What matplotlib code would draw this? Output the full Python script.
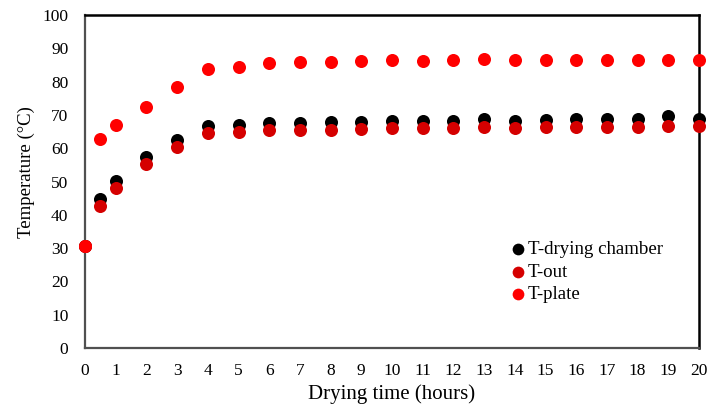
import matplotlib
matplotlib.use("Agg")
import matplotlib.pyplot as plt

hours = [0, 0.5, 1, 2, 3, 4, 5, 6, 7, 8, 9, 10, 11, 12, 13, 14, 15, 16, 17, 18, 19, 20]
t_chamber = [30.5, 44.7, 50.2, 57.4, 62.6, 66.6, 67.0, 67.7, 67.6, 67.9, 67.9, 68.1,
             68.3, 68.3, 68.7, 68.3, 68.6, 68.9, 68.9, 68.9, 69.8, 68.9]
t_out = [30.5, 42.6, 47.9, 55.3, 60.4, 64.6, 65.0, 65.4, 65.6, 65.6, 65.8, 66.0,
         66.1, 66.1, 66.4, 66.1, 66.4, 66.4, 66.4, 66.4, 66.7, 66.7]
t_plate = [30.5, 62.7, 66.9, 72.3, 78.5, 83.9, 84.5, 85.5, 85.8, 85.8, 86.1, 86.4,
           86.1, 86.4, 86.7, 86.6, 86.6, 86.4, 86.4, 86.6, 86.6, 86.6]
x_ticks = list(range(0, 21))
y_ticks = list(range(0, 101, 10))

plt.rcParams['font.family'] = ['Liberation Serif', 'DejaVu Serif']

fig = plt.figure(figsize=(7.09, 4.11), dpi=100)
ax = fig.add_axes([85/709, 1-348/411, (699-85)/709, (348-15)/411])

ms = 88
ax.scatter(hours, t_chamber, s=ms, color='#000000', label='T-drying chamber', clip_on=False, zorder=3, linewidths=0)
ax.scatter(hours, t_out, s=ms, color='#D50000', label='T-out', clip_on=False, zorder=4, linewidths=0)
ax.scatter(hours, t_plate, s=ms, color='#FF0000', label='T-plate', clip_on=False, zorder=5, linewidths=0)

ax.set_xlim(0, 20)
ax.set_ylim(0, 100)
ax.set_xticks(x_ticks)
ax.set_yticks(y_ticks)
ax.tick_params(length=0, labelsize=12.5)
ax.tick_params(axis='x', pad=10.5)
ax.tick_params(axis='y', pad=12)

for side in ['top', 'right']:
    ax.spines[side].set_color('#000000')
    ax.spines[side].set_linewidth(1.8)
for side in ['left', 'bottom']:
    ax.spines[side].set_color('#505050')
    ax.spines[side].set_linewidth(1.6)

ax.set_xlabel('Drying time (hours)', fontsize=15, labelpad=4)
ax.set_ylabel('Temperature (°C)', fontsize=13.5)
ax.yaxis.set_label_coords((35 - 85) / 614, (348 - 172.5) / 333)

leg = ax.legend(loc='upper left', bbox_to_anchor=((499-85)/614, 1-(233.5-15)/333),
                frameon=False, fontsize=13.6, handletextpad=-0.07, labelspacing=0.27,
                borderaxespad=0, markerscale=0.9, handlelength=1.2)

fig.savefig('out.png', dpi=100)
